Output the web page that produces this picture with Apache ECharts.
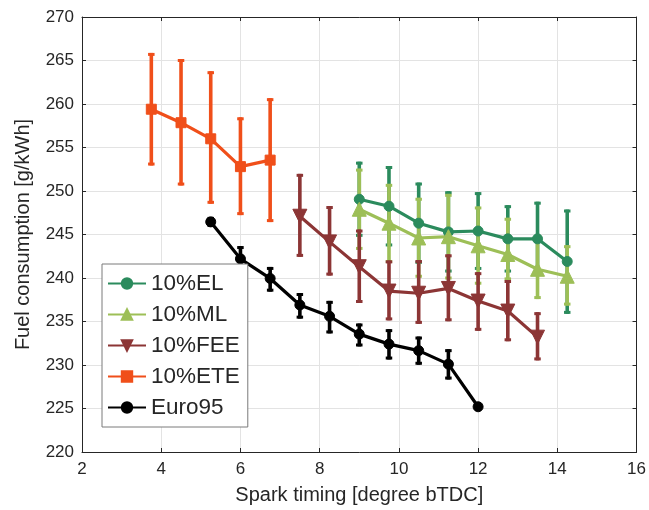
<!DOCTYPE html>
<html>
<head>
<meta charset="utf-8">
<script src="https://cdn.jsdelivr.net/npm/echarts@6/dist/echarts.min.js"></script>
<style>
  html, body { margin: 0; padding: 0; background: #fff; }
  #chart { width: 649px; height: 510px; }
</style>
</head>
<body>
<div id="chart"></div>
<script>
// spark timing [degree bTDC] and fuel consumption [g/kWh]
const sparkEL = [9, 9.75, 10.5, 11.25, 12, 12.75, 13.5, 14.25]
const fuelEL = [249.05, 248.25, 246.3, 245.3, 245.4, 244.5, 244.5, 241.9]
const highEL = [253.2, 252.7, 250.8, 249.8, 249.7, 248.2, 248.6, 247.7]
const lowEL = [244.9, 243.8, 241.8, 240.8, 241.1, 240.8, 240.4, 236.05]

const sparkML = [9, 9.75, 10.5, 11.25, 12, 12.75, 13.5, 14.25]
const fuelML = [247.9, 246.3, 244.6, 244.75, 243.7, 242.7, 241.0, 240.2]
const highML = [252.4, 250.65, 249.05, 249.5, 248.05, 246.75, 244.2, 243.6]
const lowML = [243.4, 241.9, 240.2, 240.0, 239.4, 239.9, 237.75, 237.0]

const sparkFEE = [7.5, 8.25, 9, 9.75, 10.5, 11.25, 12, 12.75, 13.5]
const fuelFEE = [247.1, 244.15, 241.3, 238.5, 238.25, 238.8, 237.35, 236.2, 233.2]
const highFEE = [251.8, 248.1, 245.4, 241.85, 241.9, 242.55, 240.5, 239.6, 235.9]
const lowFEE = [242.6, 240.45, 237.3, 235.3, 234.9, 235.2, 234.1, 232.9, 230.7]

const sparkETE = [3.75, 4.5, 5.25, 6, 6.75]
const fuelETE = [259.4, 257.85, 256.0, 252.8, 253.55]
const highETE = [265.7, 265.0, 263.6, 258.3, 260.5]
const lowETE = [253.1, 250.8, 248.7, 247.4, 246.6]

const sparkE95 = [5.25, 6, 6.75, 7.5, 8.25, 9, 9.75, 10.5, 11.25, 12]
const fuelE95 = [246.45, 242.2, 239.95, 236.9, 235.6, 233.55, 232.4, 231.65, 230.1, 225.2]
const highE95 = [246.85, 243.5, 241.1, 238.1, 237.2, 234.6, 233.95, 233.1, 231.65, 225.2]
const lowE95 = [246.05, 240.9, 238.6, 235.5, 233.8, 232.3, 230.8, 230.2, 228.5, 225.2]

const seriesNames = ['10%EL', '10%ML', '10%FEE', '10%ETE', 'Euro95']

const font = 'Liberation Sans, Arial, Helvetica, sans-serif'
const textColor = '#262626'

const chart = echarts.init(document.getElementById('chart'), null, { renderer: 'canvas' })

// vertical bar plus small caps, drawn as filled rects so the width is exact
const errorBars = (xs, lo, hi, color) => ({
  type: 'custom',
  silent: true,
  data: xs.map((x, i) => [x, lo[i], hi[i]]),
  encode: { x: 0, y: [1, 2] },
  renderItem: (params, api) => {
    const x = api.value(0)
    const p1 = api.coord([x, api.value(1)])
    const p2 = api.coord([x, api.value(2)])
    const w = 3.6
    const cw = 6.5
    const ch = 3
    const top = Math.min(p1[1], p2[1])
    const h = Math.abs(p1[1] - p2[1])
    const style = { fill: color }
    return {
      type: 'group',
      children: [
        { type: 'rect', shape: { x: p1[0] - w / 2, y: top - ch / 2, width: w, height: h + ch }, style },
        { type: 'rect', shape: { x: p1[0] - cw / 2, y: p1[1] - ch / 2, width: cw, height: ch }, style },
        { type: 'rect', shape: { x: p2[0] - cw / 2, y: p2[1] - ch / 2, width: cw, height: ch }, style }
      ]
    }
  }
})

const lineSeries = (name, xs, ys, color, symbol, size, rotate) => ({
  name,
  type: 'line',
  data: xs.map((x, i) => [x, ys[i]]),
  symbol,
  symbolSize: size,
  symbolRotate: rotate || 0,
  showSymbol: true,
  lineStyle: { color, width: 3.2 },
  itemStyle: { color, borderColor: color, borderWidth: 1 },
  emphasis: { disabled: true }
})

const option = {
  animation: false,
  backgroundColor: '#fff',
  grid: { left: 82, top: 17, right: 11, bottom: 57 },
  legend: {
    data: seriesNames,
    orient: 'vertical',
    left: 102,
    top: 264,
    backgroundColor: '#fff',
    borderColor: '#7a7a7a',
    borderWidth: 1,
    borderRadius: 0,
    padding: [8, 8, 8, 5],
    itemWidth: 38,
    itemHeight: 13,
    itemGap: 8,
    textStyle: { fontFamily: font, fontSize: 22.5, lineHeight: 21, color: textColor }
  },
  xAxis: [{
    type: 'value',
    min: 2,
    max: 16,
    interval: 2,
    name: 'Spark timing [degree bTDC]',
    nameLocation: 'middle',
    nameGap: 33,
    nameTextStyle: { fontFamily: font, fontSize: 20, color: textColor },
    axisLine: { lineStyle: { color: textColor, width: 1 } },
    axisTick: { inside: true, length: 4, lineStyle: { color: textColor } },
    axisLabel: { fontFamily: font, fontSize: 17, color: textColor, margin: 9 },
    splitLine: { show: true, lineStyle: { color: '#e3e3e3', width: 1 } }
  }, {
    type: 'value',
    position: 'top',
    min: 2,
    max: 16,
    interval: 2,
    axisLine: { show: true, lineStyle: { color: textColor, width: 1 } },
    axisTick: { inside: true, length: 4, lineStyle: { color: textColor } },
    axisLabel: { show: false },
    splitLine: { show: false }
  }],
  yAxis: [{
    type: 'value',
    min: 220,
    max: 270,
    interval: 5,
    name: 'Fuel consumption [g/kWh]',
    nameLocation: 'middle',
    nameGap: 49,
    nameTextStyle: { fontFamily: font, fontSize: 20, color: textColor },
    axisLine: { show: true, lineStyle: { color: textColor, width: 1 } },
    axisTick: { show: true, inside: true, length: 4, lineStyle: { color: textColor } },
    axisLabel: { fontFamily: font, fontSize: 17, color: textColor, margin: 8 },
    splitLine: { show: true, lineStyle: { color: '#e3e3e3', width: 1 } }
  }, {
    type: 'value',
    position: 'right',
    min: 220,
    max: 270,
    interval: 5,
    axisLine: { show: true, lineStyle: { color: textColor, width: 1 } },
    axisTick: { show: true, inside: true, length: 4, lineStyle: { color: textColor } },
    axisLabel: { show: false },
    splitLine: { show: false }
  }],
  series: [
    errorBars(sparkEL, lowEL, highEL, '#2b8b5d'),
    lineSeries('10%EL', sparkEL, fuelEL, '#2b8b5d', 'circle', 10),
    errorBars(sparkML, lowML, highML, '#9dbf57'),
    lineSeries('10%ML', sparkML, fuelML, '#9dbf57', 'triangle', 14),
    errorBars(sparkFEE, lowFEE, highFEE, '#8c3535'),
    lineSeries('10%FEE', sparkFEE, fuelFEE, '#8c3535', 'triangle', 14, 180),
    errorBars(sparkETE, lowETE, highETE, '#f04f1a'),
    lineSeries('10%ETE', sparkETE, fuelETE, '#f04f1a', 'rect', 10),
    errorBars(sparkE95, lowE95, highE95, '#000000'),
    lineSeries('Euro95', sparkE95, fuelE95, '#000000', 'circle', 10)
  ]
}

chart.setOption(option)

window.addEventListener('resize', () => chart.resize())
</script>
</body>
</html>
